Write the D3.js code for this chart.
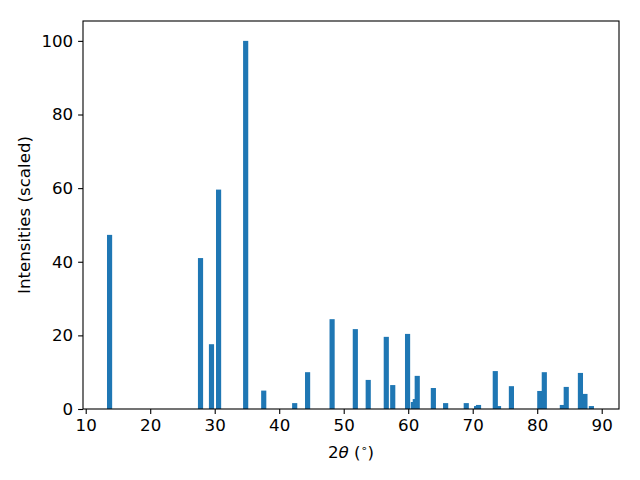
<!DOCTYPE html>
<html>
<head>
<meta charset="utf-8">
<script src="https://cdn.jsdelivr.net/npm/d3@7"></script>
<style>
  body { margin: 0; background: #fff; }
  text { font-family: "DejaVu Sans", sans-serif; fill: #000; }
</style>
</head>
<body>
<div id="chart-area"></div>
<script>
// peak positions (2theta, degrees) and scaled intensities
var twoTheta  = [13.7, 27.8, 29.5, 30.6, 34.8, 37.6, 42.4, 44.4, 48.2, 51.8,
                 53.8, 56.6, 57.6, 59.9, 60.8, 61.1, 61.4, 63.9, 65.8, 69.0,
                 70.6, 70.9, 73.5, 74.0, 76.0, 80.4, 81.1, 83.9, 84.5, 86.7,
                 87.4, 88.4];
var intensity = [47.3, 41.0, 17.6, 59.6, 100, 5.0, 1.6, 10.0, 24.4, 21.7,
                 7.9, 19.6, 6.5, 20.4, 1.9, 2.7, 9.0, 5.7, 1.6, 1.6,
                 0.8, 1.1, 10.3, 0.8, 6.2, 4.9, 10.0, 1.1, 6.0, 9.8,
                 4.1, 0.8];
var xTicks = [10, 20, 30, 40, 50, 60, 70, 80, 90];
var yTicks = [0, 20, 40, 60, 80, 100];
var barWidth = 0.8;

var margin = { left: 83, right: 21, top: 21, bottom: 71 },
    width = 640 - margin.left - margin.right,
    height = 480 - margin.top - margin.bottom;

var svg = d3.select("#chart-area").append("svg")
    .attr("width", 640)
    .attr("height", 480);

var g = svg.append("g")
    .attr("transform", "translate(" + margin.left + "," + margin.top + ")");

// Scales
var x = d3.scaleLinear().domain([9.58, 92.68]).range([0, width]);
var y = d3.scaleLinear().domain([0, 105.4]).range([height, 0]);

var data = twoTheta.map(function(d, i) { return { pos: d, val: intensity[i] }; });

// Bars
g.selectAll("rect.bar")
    .data(data)
    .enter().append("rect")
    .attr("class", "bar")
    .attr("x", function(d) { return x(d.pos - barWidth / 2); })
    .attr("width", function(d) { return x(d.pos + barWidth / 2) - x(d.pos - barWidth / 2); })
    .attr("y", function(d) { return y(d.val); })
    .attr("height", function(d) { return height - y(d.val); })
    .attr("fill", "#1f77b4");

// Axes
var xAxis = g.append("g")
    .attr("transform", "translate(0," + height + ")")
    .call(d3.axisBottom(x).tickValues(xTicks).tickSize(4.9).tickSizeOuter(0).tickPadding(4.9));
var yAxis = g.append("g")
    .call(d3.axisLeft(y).tickValues(yTicks).tickSize(4.9).tickSizeOuter(0).tickPadding(4.9));

[xAxis, yAxis].forEach(function(a) {
    a.select(".domain").remove();
    a.selectAll("line").attr("stroke", "#000").attr("stroke-width", 1.1);
    a.selectAll("text").style("font-size", "16.67px").attr("fill", "#000");
});

// Frame
g.append("rect")
    .attr("width", width)
    .attr("height", height)
    .attr("fill", "none")
    .attr("stroke", "#000")
    .attr("stroke-width", 1.1);

// X label
var xl = g.append("text")
    .attr("x", width / 2)
    .attr("y", height + 49)
    .attr("text-anchor", "middle")
    .style("font-size", "16.67px");
xl.append("tspan").text("2");
xl.append("tspan").style("font-style", "italic").text("θ");
xl.append("tspan").text(" (");
xl.append("tspan").attr("dy", -6).style("font-size", "11px").text("∘");
xl.append("tspan").attr("dy", 6).text(")");

// Y label
g.append("text")
    .attr("transform", "rotate(-90)")
    .attr("x", -height / 2)
    .attr("y", -53)
    .attr("text-anchor", "middle")
    .style("font-size", "16.67px")
    .text("Intensities (scaled)");
</script>
</body>
</html>
